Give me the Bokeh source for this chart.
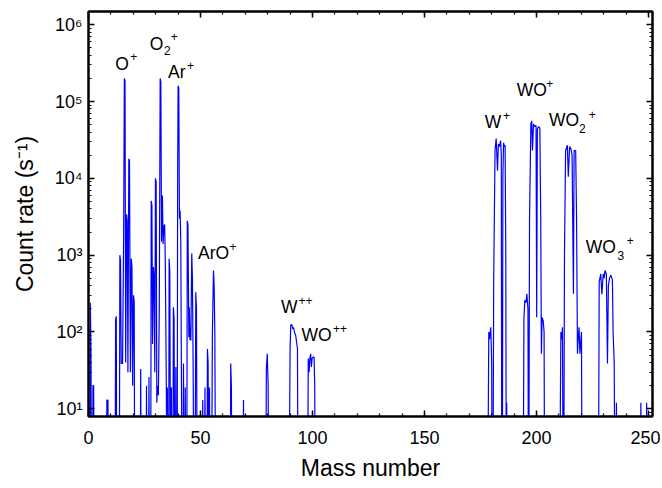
from bokeh.plotting import figure
from bokeh.models import (LogAxis, LinearAxis, LogTicker, SingleIntervalTicker,
                          CustomJSTickFormatter, Range1d)
from bokeh.core.properties import value
from bokeh.embed import file_html
from bokeh.resources import INLINE

B = 1.0  # zero counts: drawn below the visible axis floor

# ---- spectrum trace, region by region (mass number, count rate s^-1) ----
light_mass = [0.5, 0.8, 1.1, 1.3, 1.8, 2.0, 2.3, 2.5,
              8.0, 8.2, 8.7, 8.9,
              11.9, 12.1, 12.4, 12.6,
              13.8, 14.0, 14.3, 14.6, 15.2, 15.7, 16.0, 16.3, 16.6, 17.0, 17.3, 17.6,
              18.0, 18.3, 18.7, 19.1, 19.4, 19.7, 20.1, 20.4, 20.6]
light_count = [B, 240, 60, B, B, 20, 20, B,
               B, 13, 13, B,
               B, 145, 160, B,
               B, 1000, 850, 39, 39, 2000, 2.0e5, 1.85e5, 40, 3400, 2800, 30,
               1.8e4, 1.7e4, 30, 900, 700, 20, 300, 250, B]

air_mass = [23.1, 23.3, 23.5,
            25.7, 25.9, 26.1, 26.8, 27.0, 27.2,
            27.8, 28.0, 28.3, 28.6, 29.0, 29.3, 29.6, 29.9, 30.2, 30.5, 30.8, 31.2, 31.6,
            32.0, 32.3, 32.6, 33.0, 33.3, 33.7, 34.0, 34.3, 34.7, 35.0, 35.2, 35.4,
            35.8, 36.0, 36.3, 36.6, 36.9, 37.0, 37.2, 37.7, 37.9, 38.2, 38.5, 38.8, 39.0, 39.2,
            39.6, 39.8, 40.0, 40.3, 40.6, 40.9, 41.2, 41.5, 41.8, 42.2, 42.4, 42.7, 43.1, 43.2, 43.4,
            43.9, 44.1, 44.4, 44.8, 45.0, 45.3, 45.7, 46.1, 46.4, 46.7, 47.0, 47.6, 47.9, 48.2, 48.5]
air_count = [B, 33, B,
             B, 20, B, B, 26, B,
             B, 5100, 4500, 70, 700, 500, 30, 1.0e4, 9000, 12, 20, 15, 200,
             2.0e5, 1.8e5, 1500, 6000, 1400, 2400, 2500, 780, 30, B, 19, B,
             B, 900, 600, B, B, 19, B, B, 210, 150, B, B, 35, B,
             B, 1.0e4, 1.6e5, 1.5e5, 3000, 3800, 1500, 20, B, B, 39, B, B, 19, B,
             B, 2800, 2500, 86, 210, 80, 78, 1050, 500, 40, B, B, 330, 200, B]

aro_mass = [50.8, 51.0, 51.2, 51.8, 52.0, 52.2, 52.9, 53.1, 53.4, 53.6, 53.9, 54.0, 54.2,
            55.0, 55.3, 55.6, 55.8, 56.1, 56.4, 56.7,
            63.3, 63.5, 63.8, 64.0,
            69.0, 69.2, 69.4,
            79.2, 79.4, 79.8, 80.2, 80.4]
aro_count = [B, 13, B, B, 19, B, B, 60, 40, B, B, 19, B,
             B, 90, 300, 630, 400, 95, B,
             B, 39, 19, B,
             B, 13, B,
             B, 33, 52, 20, B]

w2_mass = [89.6, 90.0, 90.3, 90.8, 91.2, 91.5, 92.1, 92.5, 92.8, 93.3, 93.5,
           97.9, 98.1, 98.5, 98.8, 99.2, 99.5, 99.8, 100.3, 100.7, 101.0, 101.2]
w2_count = [B, 60, 122, 125, 110, 115, 96, 90, 78, 60, B,
            B, 45, 30, 45, 52, 35, 45, 47, 47, 20, B]

w_mass = [178.3, 178.7, 179.0, 179.6, 180.0, 180.2, 180.6, 180.9, 181.5, 182.0, 182.6,
          183.0, 183.5, 184.0, 184.3, 184.5, 184.8, 185.0, 185.3, 185.7, 186.0, 186.3,
          186.5, 186.6, 186.7, 186.9]
w_count = [B, 100, 80, 115, 40, B, B, 500, 2.3e4, 3.3e4, 1.26e4,
           2.8e4, 2.6e4, 3.1e4, 2.0e4, B, B, 1.0e4, 2.9e4, 2.6e4, 2.7e4, 1000,
           B, B, 12, B]

wo_mass = [194.1, 194.4, 194.8, 195.3, 195.7, 196.2, 196.4, 196.6, 196.9, 197.5, 197.9,
           198.2, 198.7, 199.3, 199.8, 200.1, 200.4, 200.9, 201.5, 201.9, 202.2, 202.5,
           203.0, 203.4, 203.6]
wo_count = [B, 150, 260, 240, 315, 200, B, B, 3000, 5.1e4, 5.6e4,
            2.3e4, 5.1e4, 4.7e4, 4.9e4, 155, 4.4e4, 4.7e4, 4.5e4, 3000, 52, 155,
            140, 100, B]

wo2_mass = [210.4, 210.9, 211.3, 211.6, 211.9, 212.2, 212.5, 213.0, 213.8, 214.2, 214.8,
            215.4, 215.9, 216.5, 216.8, 217.5, 217.9, 218.3, 218.6, 219.0, 219.4, 220.1, 220.3]
wo2_count = [B, 100, 80, 115, B, B, 1000, 2.3e4, 2.7e4, 1.05e4, 2.6e4,
             2.4e4, 2.0e4, 315, 2.3e4, 2.3e4, 3000, 52, 80, 115, 52, 100, B]

wo3_mass = [227.7, 228.0, 228.7, 229.2, 229.8, 230.2, 230.6, 231.2, 231.7, 232.1, 232.6,
            233.2, 233.9, 234.2, 234.7, 235.0, 235.5, 235.7, 235.9,
            246.4, 246.6, 246.8, 249.0, 249.2, 249.4]
wo3_count = [B, 450, 570, 310, 570, 500, 630, 570, 39, 400, 500,
             550, 480, 100, 40, B, B, 12, B,
             B, 12, B, B, 12, B]

# ---- peak labels: main text, subscript, superscript (data anchors, glyph centres) ----
lab_text = ["O", "O", "Ar", "ArO", "W", "WO", "W", "WO", "WO", "WO"]
lab_mass = [11.9, 27.4, 35.5, 48.9, 85.9, 95.1, 176.9, 191.2, 205.6, 222.0]
lab_count = [3.07e5, 5.58e5, 2.41e5, 1052, 210, 92, 5.47e4, 1.40e5, 5.67e4, 1259]

sub_text = ["2", "2", "3"]
sub_mass = [33.75, 219.0, 236.2]
sub_count = [4.6e5, 4.47e4, 991]

sup_text = ["+", "+", "+", "+", "++", "++", "+", "+", "+", "+"]
sup_mass = [18.6, 36.7, 44.0, 63.0, 93.8, 109.2, 185.1, 204.4, 223.3, 240.3]
sup_count = [3.81e5, 6.93e5, 2.95e5, 1279, 255, 112, 6.6e4, 1.71e5, 6.85e4, 1540]

x_major = 50
FONT = "Liberation Sans"

p = figure(frame_width=564, frame_height=405,
           x_range=Range1d(0, 251.8), y_range=Range1d(7.94, 1.486e6),
           y_axis_type="log", output_backend="svg", toolbar_location=None,
           min_border_left=88, min_border_right=8, min_border_top=11, min_border_bottom=66,
           background_fill_color="white", border_fill_color="white")
p.grid.visible = False
p.outline_line_color = "black"
p.outline_line_width = 2

for xs, ys in [(light_mass, light_count), (air_mass, air_count), (aro_mass, aro_count),
               (w2_mass, w2_count), (w_mass, w_count), (wo_mass, wo_count),
               (wo2_mass, wo2_count), (wo3_mass, wo3_count)]:
    p.line(xs, ys, line_color="#0000ff", line_width=1.2)

p.text(lab_mass, lab_count, text=lab_text, text_font=value(FONT), text_font_size=value("17.5px"),
       text_baseline="middle", text_align="left", text_color="black")
p.text(sub_mass, sub_count, text=sub_text, text_font=value(FONT), text_font_size=value("12px"),
       text_baseline="middle", text_align="left", text_color="black")
p.text(sup_mass, sup_count, text=sup_text, text_font=value(FONT), text_font_size=value("12px"),
       text_baseline="middle", text_align="left", text_color="black")

xticker = SingleIntervalTicker(interval=x_major, num_minor_ticks=5)
yticker = LogTicker(num_minor_ticks=10)
sup_js = """
const s = {"0":"\u2070","1":"\u00b9","2":"\u00b2","3":"\u00b3","4":"\u2074","5":"\u2075",
           "6":"\u2076","7":"\u2077","8":"\u2078","9":"\u2079","-":"\u207b"};
const e = Math.round(Math.log10(tick));
return "10" + String(e).split("").map(c => s[c]).join("");
"""
blank = CustomJSTickFormatter(code="return ''")


def style(ax, labels=True):
    ax.axis_line_width = 2
    ax.axis_line_color = "black"
    ax.major_tick_in = 6
    ax.major_tick_out = 0
    ax.minor_tick_in = 3
    ax.minor_tick_out = 0
    ax.major_tick_line_width = 1.5
    ax.minor_tick_line_width = 1.2
    ax.major_tick_line_color = "black"
    ax.minor_tick_line_color = "black"
    ax.major_label_text_font = FONT
    ax.major_label_text_font_size = "18px"
    ax.major_label_text_color = "black"
    ax.axis_label_text_font = FONT
    ax.axis_label_text_font_style = "normal"
    ax.axis_label_text_font_size = "23px"
    ax.axis_label_text_color = "black"
    if not labels:
        ax.major_label_standoff = 0


xa = p.xaxis[0]
xa.ticker = xticker
style(xa)
xa.axis_label = "Mass number"
xa.major_label_standoff = 14
xa.axis_label_standoff = 8

ya = p.yaxis[0]
ya.ticker = yticker
ya.formatter = CustomJSTickFormatter(code=sup_js)
style(ya)
ya.axis_label = "Count rate (s\u207b\u00b9)"
ya.major_label_standoff = 6
ya.axis_label_standoff = 14

top = LinearAxis(ticker=xticker, formatter=blank)
style(top, labels=False)
p.add_layout(top, "above")
right = LogAxis(ticker=yticker, formatter=blank)
style(right, labels=False)
p.add_layout(right, "right")

open("out.html", "w").write(file_html(p, INLINE))
